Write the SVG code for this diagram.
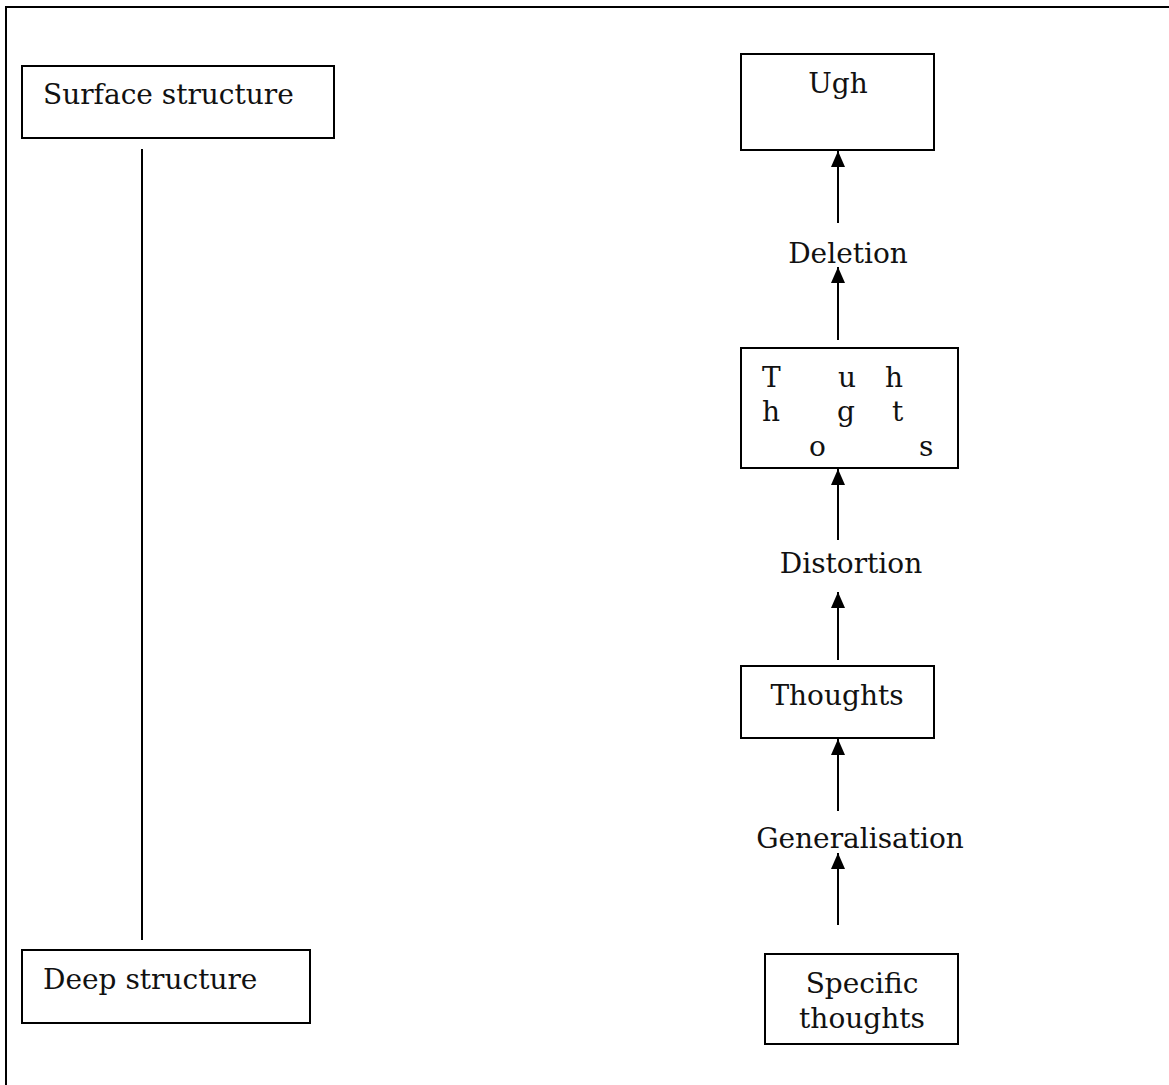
<svg xmlns="http://www.w3.org/2000/svg" width="1169" height="1085" viewBox="0 0 1169 1085">
  <defs>
    <style>
      .box { fill: #fff; stroke: #000; stroke-width: 2; }
      .line { stroke: #000; stroke-width: 2; fill: none; }
      .lbl { font-family: "DejaVu Serif", "Liberation Serif", serif; font-size: 28px; fill: #111; }
      .mid { text-anchor: middle; }
    </style>
    <marker id="arrow" viewBox="0 0 16 14" refX="16" refY="7" markerWidth="16" markerHeight="14" markerUnits="userSpaceOnUse" orient="auto">
      <path d="M0,0 L16,7 L0,14 Z" fill="#000"/>
    </marker>
  </defs>
  <rect width="1169" height="1085" fill="#fff"/>

  <!-- page frame: top and left rules only -->
  <path class="line" d="M6,1085 V7 H1169"/>

  <g id="connectors">
    <line class="line" x1="142" y1="149" x2="142" y2="940"/>
    <line class="line" x1="838" y1="223" x2="838" y2="151" marker-end="url(#arrow)"/>
    <line class="line" x1="838" y1="340" x2="838" y2="267" marker-end="url(#arrow)"/>
    <line class="line" x1="838" y1="540" x2="838" y2="469" marker-end="url(#arrow)"/>
    <line class="line" x1="838" y1="660" x2="838" y2="592" marker-end="url(#arrow)"/>
    <line class="line" x1="838" y1="811" x2="838" y2="739" marker-end="url(#arrow)"/>
    <line class="line" x1="838" y1="925" x2="838" y2="853" marker-end="url(#arrow)"/>
  </g>

  <g id="surface-structure">
    <rect class="box" x="22" y="66" width="312" height="72"/>
    <text class="lbl" x="43" y="104">Surface structure</text>
  </g>

  <g id="deep-structure">
    <rect class="box" x="22" y="950" width="288" height="73"/>
    <text class="lbl" x="43" y="989">Deep structure</text>
  </g>

  <g id="ugh">
    <rect class="box" x="741" y="54" width="193" height="96"/>
    <text class="lbl mid" x="838" y="93">Ugh</text>
  </g>

  <g id="deletion">
    <text class="lbl mid" x="848" y="263">Deletion</text>
  </g>

  <g id="scattered-thoughts">
    <rect class="box" x="741" y="348" width="217" height="120"/>
    <text class="lbl" x="762" y="387">T</text>
    <text class="lbl" x="838" y="387">u</text>
    <text class="lbl" x="885" y="387">h</text>
    <text class="lbl" x="762" y="421">h</text>
    <text class="lbl" x="837" y="421">g</text>
    <text class="lbl" x="892" y="421">t</text>
    <text class="lbl" x="809" y="456">o</text>
    <text class="lbl" x="919" y="456">s</text>
  </g>

  <g id="distortion">
    <text class="lbl mid" x="851" y="573">Distortion</text>
  </g>

  <g id="thoughts">
    <rect class="box" x="741" y="666" width="193" height="72"/>
    <text class="lbl mid" x="837" y="705">Thoughts</text>
  </g>

  <g id="generalisation">
    <text class="lbl mid" x="860" y="848">Generalisation</text>
  </g>

  <g id="specific-thoughts">
    <rect class="box" x="765" y="954" width="193" height="90"/>
    <text class="lbl mid" x="862" y="993">Specific</text>
    <text class="lbl mid" x="862" y="1028">thoughts</text>
  </g>
</svg>
